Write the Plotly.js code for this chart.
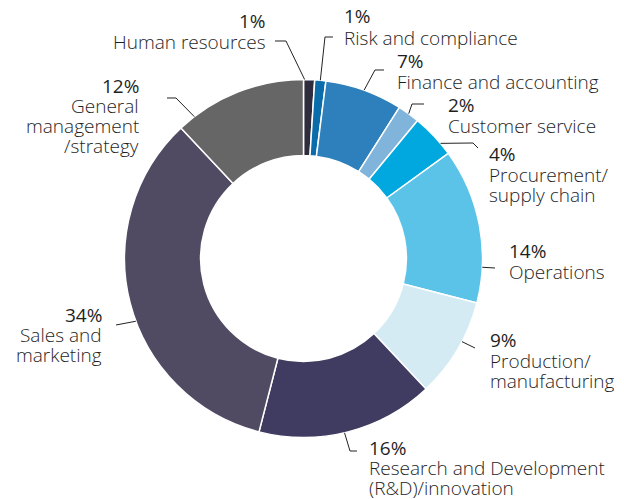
<!DOCTYPE html>
<html>
<head>
<meta charset="utf-8">
<script src="https://cdn.plot.ly/plotly-3.0.1.min.js"></script>
<style>html,body{margin:0;padding:0;background:#fff;}#chart{width:624px;height:499px;}</style>
</head>
<body>
<div id="chart"></div>
<script>
// ---- data ----
const categories = ["Human resources","Risk and compliance","Finance and accounting","Customer service",
  "Procurement/supply chain","Operations","Production/manufacturing",
  "Research and Development (R&D)/innovation","Sales and marketing","General management/strategy"];
const values = [1, 1, 7, 2, 4, 14, 9, 16, 34, 12];
const labelLines = [
  ["Human resources"],
  ["Risk and compliance"],
  ["Finance and accounting"],
  ["Customer service"],
  ["Procurement/","supply chain"],
  ["Operations"],
  ["Production/","manufacturing"],
  ["Research and Development","(R&D)/innovation"],
  ["Sales and","marketing"],
  ["General","management","/strategy"]
];

// ---- styles ----
const colors = ["#2e2d3d","#0b6cab","#2d80bb","#80b4db","#00a8df","#5cc3e8","#d5ebf4","#403c61","#504b63","#666666"];
const W = 624, H = 499, CX = 303.5, CY = 258.5, R = 179;
// label placement (pixels): anchor fraction within slice, leader path after anchor, text x, align, first-line y, line step
const labelStyle = [
  {f:0.1,  path:[[286,41],[275,41]], tx:267, al:"right", y0:21, dy:21},
  {f:0.5,  path:[[325,37],[333,37]], tx:343, al:"left",  y0:16, dy:21.5},
  {f:0.5,  path:[[375,70],[384,70]], tx:396, al:"left",  y0:61, dy:21},
  {f:0.5,  path:[[412,104],[424,104]], tx:447, al:"left", y0:105, dy:21},
  {f:0.72, path:[[473,143],[478,148]], tx:488, al:"left", y0:154, dy:20.5},
  {f:0.77, path:[[495,268]], tx:508, al:"left", y0:251, dy:20.5},
  {f:0.41, path:[[475,348]], tx:489, al:"left", y0:340, dy:20.5},
  {f:0.52, path:[[350,451],[357,451]], tx:368, al:"left", y0:448, dy:20},
  {f:0.45, path:[[116,325]], tx:103, al:"right", y0:315, dy:20},
  {f:0.13, path:[[176,98],[167,98]], tx:140, al:"right", y0:86, dy:20}
];
const textColor = "#1f1f1f";
const FONT = "Open Sans, Noto Sans, sans-serif";
const FSIZE = 19, BOXH = 20, YSHIFT = 3;

const total = values.reduce((a,b)=>a+b,0);
const P = (x,y) => [x/W, 1 - y/H];

const shapes = [], annotations = [];
let cum = 0;
values.forEach((v,i) => {
  const st = labelStyle[i];
  const frac = (cum + v*st.f)/total;
  cum += v;
  const th = frac*2*Math.PI;
  const ax = CX + R*Math.sin(th), ay = CY - R*Math.cos(th);
  const pts = [[ax,ay]].concat(st.path).map(p => P(p[0],p[1]));
  shapes.push({type:"path", xref:"paper", yref:"paper",
    path: pts.map((p,k)=>(k?"L":"M")+p[0].toFixed(5)+","+p[1].toFixed(5)).join(" "),
    line:{color:"#222", width:1}});
  const pct = Math.round(v/total*100) + "%";
  const lines = [pct].concat(labelLines[i]);
  lines.forEach((t,k) => {
    const q = P(st.tx, st.y0 + k*st.dy + YSHIFT);
    annotations.push({x:q[0], y:q[1], xref:"paper", yref:"paper", text:t, showarrow:false,
      xanchor:st.al, yanchor:"middle", height:BOXH, valign:"bottom", borderpad:0,
      font:{family:FONT, size:FSIZE, color:textColor, weight: k===0 ? 500 : 300}});
  });
});

const trace = {
  type:"pie", values: values, labels: categories, sort:false, direction:"clockwise", rotation:0,
  hole:0.575, textinfo:"none", hoverinfo:"label+percent", showlegend:false,
  marker:{colors: colors, line:{color:"#ffffff", width:1.5}},
  domain:{x:[(CX-R)/W, (CX+R)/W], y:[1-(CY+R)/H, 1-(CY-R)/H]}
};

Plotly.newPlot("chart", [trace], {
  width:W, height:H, margin:{l:0,r:0,t:0,b:0}, paper_bgcolor:"#fff", plot_bgcolor:"#fff",
  shapes: shapes, annotations: annotations, font:{family:FONT}
}, {displayModeBar:false, staticPlot:true});
</script>
</body>
</html>
